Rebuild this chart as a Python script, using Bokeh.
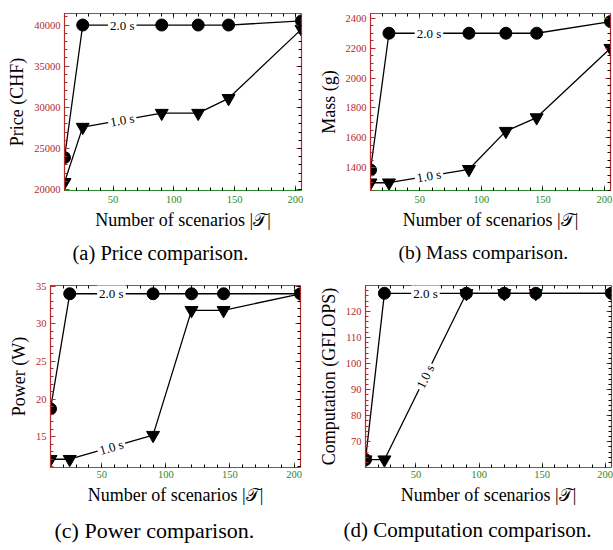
import math
from bokeh.plotting import figure
from bokeh.layouts import column, row
from bokeh.models import Range1d, LinearAxis, FixedTicker, Label, Title, Spacer
from bokeh.embed import file_html
from bokeh.resources import INLINE

# ---------------- data ----------------
x_scen = [10, 25, 90, 120, 145, 205]
x_ticks = [50, 100, 150, 200]
x_title = "Number of scenarios |𝒯|"
series_labels = ["2.0 s", "1.0 s"]

price_2s = [23900, 40000, 40000, 40000, 40000, 40500]
price_1s = [20900, 27600, 29300, 29300, 31100, 39500]
price_ticks = [20000, 25000, 30000, 35000, 40000]

mass_2s = [1385, 2300, 2300, 2300, 2300, 2378]
mass_1s = [1300, 1300, 1390, 1645, 1736, 2200]
mass_ticks = [1400, 1600, 1800, 2000, 2200, 2400]

power_2s = [18.7, 34, 34, 34, 34, 34]
power_1s = [12.0, 12.0, 15.2, 31.8, 31.8, 34]
power_ticks = [15, 20, 25, 30, 35]

comp_2s = [63.1, 127, 127, 127, 127, 127]
comp_1s = [63.1, 63.1, 127, 127, 127, 127]
comp_ticks = [70, 80, 90, 100, 110, 120]

# ---------------- style ----------------
RED = "#b22a2a"
GREEN = "#2a8a2a"
FONT = "Liberation Serif"
X0, X1 = 10, 205


def style_axis(ax, color, minor_color, show_labels=True, label_standoff=5):
    ax.axis_line_color = color
    ax.axis_line_width = 1.2
    ax.major_tick_line_color = color
    ax.minor_tick_line_color = minor_color
    ax.major_tick_in = 5
    ax.major_tick_out = 0
    ax.minor_tick_in = 3
    ax.minor_tick_out = 0
    ax.major_label_text_font = FONT
    if show_labels:
        ax.major_label_text_color = color
        ax.major_label_text_font_size = "10.5px"
        ax.major_label_standoff = label_standoff
    else:
        ax.major_label_text_color = None
        ax.major_label_text_font_size = "0px"
        ax.major_label_standoff = 0
    ax.axis_label_text_font = FONT
    ax.axis_label_text_font_style = "normal"
    ax.axis_label_text_font_size = "18px"
    ax.axis_label_text_color = "black"


def panel(y2, y1, yr, yticks, yminor, ylabel, caption, W, H, bl, br, bt, bb,
          xl_standoff, cap_off, cap_size, cap_standoff):
    fw = W - bl - br
    fh = H - bt - bb
    p = figure(width=W, height=H, output_backend="svg", toolbar_location=None,
               x_range=Range1d(X0, X1), y_range=Range1d(*yr),
               min_border_left=bl, min_border_right=br,
               min_border_top=bt, min_border_bottom=bb,
               x_axis_label=x_title, y_axis_label=ylabel)
    p.xgrid.visible = False
    p.ygrid.visible = False
    p.outline_line_color = None
    p.background_fill_color = "white"
    p.border_fill_color = "white"

    xt = FixedTicker(ticks=x_ticks, minor_ticks=list(range(10, 206, 10)))
    yt = FixedTicker(ticks=yticks, minor_ticks=yminor)

    xa = p.xaxis[0]
    xa.ticker = xt
    style_axis(xa, GREEN, "black", label_standoff=xl_standoff)
    xa.axis_label_standoff = 4
    ya = p.yaxis[0]
    ya.ticker = yt
    style_axis(ya, RED, RED, label_standoff=4)
    ya.axis_label_standoff = 4

    top = LinearAxis(ticker=xt)
    style_axis(top, GREEN, "black", show_labels=False)
    p.add_layout(top, "above")
    right = LinearAxis(ticker=yt)
    style_axis(right, RED, "black", show_labels=False)
    p.add_layout(right, "right")

    p.line(x_scen, y2, line_color="black", line_width=1.3)
    p.line(x_scen, y1, line_color="black", line_width=1.3)
    p.scatter(x_scen, y2, marker="circle", size=12, color="black")
    p.scatter(x_scen, y1, marker="inverted_triangle", size=13, color="black")

    xm = (x_scen[1] + x_scen[2]) / 2
    for ys, lab in zip([y2, y1], series_labels):
        ym = (ys[1] + ys[2]) / 2
        dx = (x_scen[2] - x_scen[1]) / (X1 - X0) * fw
        dy = (ys[2] - ys[1]) / (yr[1] - yr[0]) * fh
        ang = math.atan2(dy, dx)
        p.add_layout(Label(x=xm, y=ym, text=lab, angle=ang,
                           text_align="center", text_baseline="middle",
                           background_fill_color="white",
                           text_font=FONT, text_font_size="13px",
                           text_color="black", padding=2))

    p.add_layout(Title(text=caption, align="left", offset=cap_off,
                       text_font=FONT, text_font_size=cap_size,
                       text_font_style="normal", text_color="black",
                       standoff=cap_standoff), "below")
    return p


pa = panel(price_2s, price_1s, (19900, 41400), price_ticks,
           list(range(20000, 41001, 1000)), "Price (CHF)",
           "(a) Price comparison.", 311, 270, 57, 14, 13, 79,
           5, 8, "20.5px", 14)
pb = panel(mass_2s, mass_1s, (1248, 2432), mass_ticks,
           list(range(1250, 2431, 50)), "Mass (g)",
           "(b) Mass comparison.", 298, 270, 52, 3, 9, 79,
           5, 28, "19.5px", 14)
pc = panel(power_2s, power_1s, (10.9, 35.1), power_ticks,
           list(range(11, 36, 1)), "Power (W)",
           "(c) Power comparison.", 310, 280, 43, 15, 10, 80,
           3, 4, "22px", 16)
pd = panel(comp_2s, comp_1s, (60.1, 130), comp_ticks,
           list(range(62, 130, 2)), "Computation (GFLOPS)",
           "(d) Computation comparison.", 298, 280, 49, 2, 15, 79,
           3, -22, "21px", 16)

layout = column(row(Spacer(width=4, height=270), pa, pb),
                row(Spacer(width=5, height=280), pc, pd))
open("out.html", "w").write(file_html(layout, INLINE))
